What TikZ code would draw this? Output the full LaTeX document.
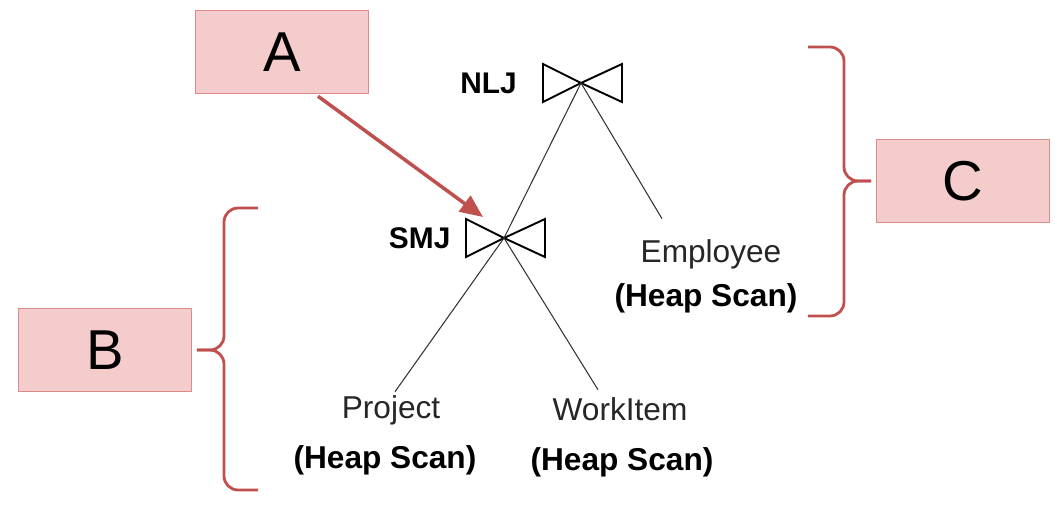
\documentclass[tikz,border=0pt]{standalone}
\usepackage{fontspec}
\setmainfont{Liberation Sans}
\usetikzlibrary{arrows.meta, positioning, calc}
\definecolor{boxfill}{RGB}{245,204,204}
\definecolor{boxline}{RGB}{218,140,138}
\definecolor{markred}{RGB}{192,80,77}
\tikzset{
  bowtie/.pic={
    \draw[line width=1.1pt, line join=miter]
    (0,0) -- (-38,-19) -- (-38,19) -- cycle
    (0,0) -- (41,-19) -- (41,19) -- cycle;
  }
}

\begin{document}
\begin{tikzpicture}[x=0.02cm, y=-0.02cm,
tag/.style     ={rectangle, draw=boxline, fill=boxfill, line width=0.8pt, minimum width=3.45cm, minimum height=1.66cm, font=\fontsize{32}{36}\selectfont},
joinop/.style  ={font=\bfseries\fontsize{17}{20}\selectfont},
relation/.style={inner sep=0pt, anchor=base, text=black!85, font=\fontsize{18}{22}\selectfont},
access/.style  ={inner sep=0pt, anchor=base, font=\bfseries\fontsize{18}{22}\selectfont},
line/.style    ={draw, black!80, line width=0.6pt},
brace/.style   ={draw=markred, line width=1.6pt, rounded corners=8pt},
pointer/.style ={draw=markred, line width=2pt, -{Triangle[length=13pt,width=11pt]}},
]
\useasboundingbox (0,0) rectangle (1057,508);

% Define the nodes
\coordinate (nlj) at (581,83);
\coordinate (smj) at (504,238);
\pic at (nlj) {bowtie};
\pic at (smj) {bowtie};
\node[joinop, left=33pt of nlj]   (nlj_lbl)   {NLJ};
\node[joinop, left=27pt of smj]   (smj_lbl)   {SMJ};

\node[relation] (emp)      at (711,262) {Employee};
\node[access]   (emp_scan) at (706,306) {(Heap Scan)};
\node[relation] (prj)      at (391,418) {Project};
\node[access]   (prj_scan) at (385,468) {(Heap Scan)};
\node[relation] (wki)      at (620,420) {WorkItem};
\node[access]   (wki_scan) at (622,470) {(Heap Scan)};

\node[tag] (A) at (282,52)  {A};
\node[tag] (B) at (105,350) {B};
\node[tag] (C) at (963,181) {C};

% % Connect the nodes
\path[line] (nlj) -- (smj);
\path[line] (smj) -- ($(prj.north)+(4,-3)$);
\path[line] (smj) -- ($(wki.north)+(-22,-7)$);
\path[line] (nlj) -- ($(emp.north)+(-49,-20)$);

\path[pointer] ($(A.south)+(36,2)$) -- ($(smj)+(-21,-21)$);

% braces
\coordinate (btip) at ($(B.east)+(5,0)$);
\draw[brace] (btip) -| (224,208) -- (258,208);
\draw[brace] (btip) -| (224,490) -- (258,490);
\coordinate (ctip) at ($(C.west)+(-5,0)$);
\draw[brace] (ctip) -| (844,47) -- (808,47);
\draw[brace] (ctip) -| (844,316) -- (808,316);

\end{tikzpicture}
\end{document}
